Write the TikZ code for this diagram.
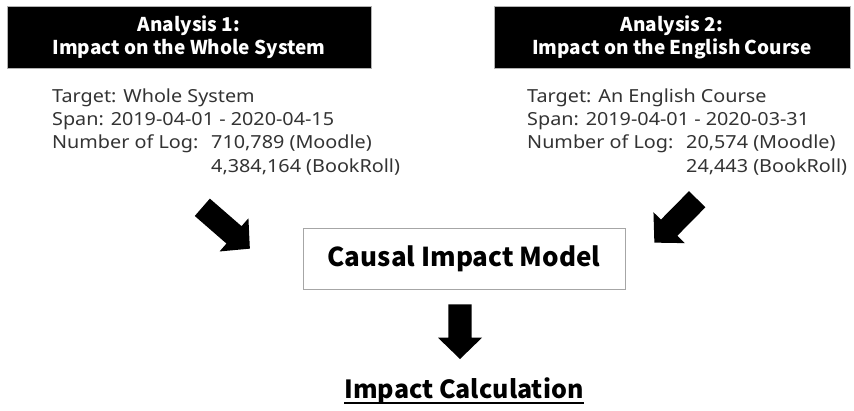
\documentclass[tikz,border=0pt]{standalone}
\usepackage{fontspec}
\setmainfont{Noto Sans CJK JP}
\newfontfamily\bodyfont{Noto Sans}[FakeStretch=1.1]
\begin{document}
\begin{tikzpicture}[x=1pt,y=-1pt,
  titlebox/.style={fill=black, draw=gray!60, line width=0.8pt, text=white,
    font=\bfseries\fontsize{19}{23}\selectfont, align=center, inner sep=0pt,
    minimum height=62pt},
  body/.style={anchor=base west, inner sep=0pt, text=black!80,
    font=\bodyfont\fontsize{18}{22}\selectfont},
  modelbox/.style={draw=gray!70, line width=1pt, fill=white, minimum width=322pt,
    minimum height=61pt, inner sep=0pt},
  fatarrow/.style={fill=black}
]
\useasboundingbox (0,0) rectangle (854,410);

% title boxes
\node[titlebox, minimum width=364pt] (t1) at (189,37) {Analysis 1:\\Impact on the Whole System};
\node[titlebox, minimum width=356pt] (t2) at (672,37) {Analysis 2:\\Impact on the English Course};

% left body
\node[body] (l1) at (52,102) {Target: Whole System};
\node[body] (l2) at (52,125) {Span: 2019-04-01 - 2020-04-15};
\node[body] (l3) at (52,148.5) {Number of Log:};
\node[body] (l3v) at (211,148.5) {710,789 (Moodle)};
\node[body] (l4v) at (211,172) {4,384,164 (BookRoll)};

% right body
\node[body] (r1) at (527,102) {Target: An English Course};
\node[body] (r2) at (527,125) {Span: 2019-04-01 - 2020-03-31};
\node[body] (r3) at (527,148.5) {Number of Log:};
\node[body] (r3v) at (686,148.5) {20,574 (Moodle)};
\node[body] (r4v) at (686,172) {24,443 (BookRoll)};

% model box
\node[modelbox, font=\bfseries\fontsize{26}{31}\selectfont] (model) at (464,258.5) {Causal Impact Model};

% result
\node[inner sep=0pt, anchor=base, font=\bfseries\fontsize{25}{30}\selectfont] (calc) at (464,398) {Impact Calculation};
\draw[line width=1.5pt] ([yshift=-5pt]calc.base west) -- ([yshift=-5pt]calc.base east);

% block arrows
\fill[fatarrow, shift={(202.3,207.3)}, rotate=-41]
  (0,-11.5) -- (42,-11.5) -- (42,-22) -- (63,0) -- (42,22) -- (42,11.5) -- (0,11.5) -- cycle;
\fill[fatarrow, shift={(697.2,199.2)}, rotate=-134.6]
  (0,-11.5) -- (40,-11.5) -- (40,-22) -- (61,0) -- (40,22) -- (40,11.5) -- (0,11.5) -- cycle;
\fill[fatarrow, shift={(460,304.3)}, rotate=-90]
  (0,-11.7) -- (33.4,-11.7) -- (33.4,-22) -- (54.7,0) -- (33.4,22) -- (33.4,11.7) -- (0,11.7) -- cycle;
\end{tikzpicture}
\end{document}
